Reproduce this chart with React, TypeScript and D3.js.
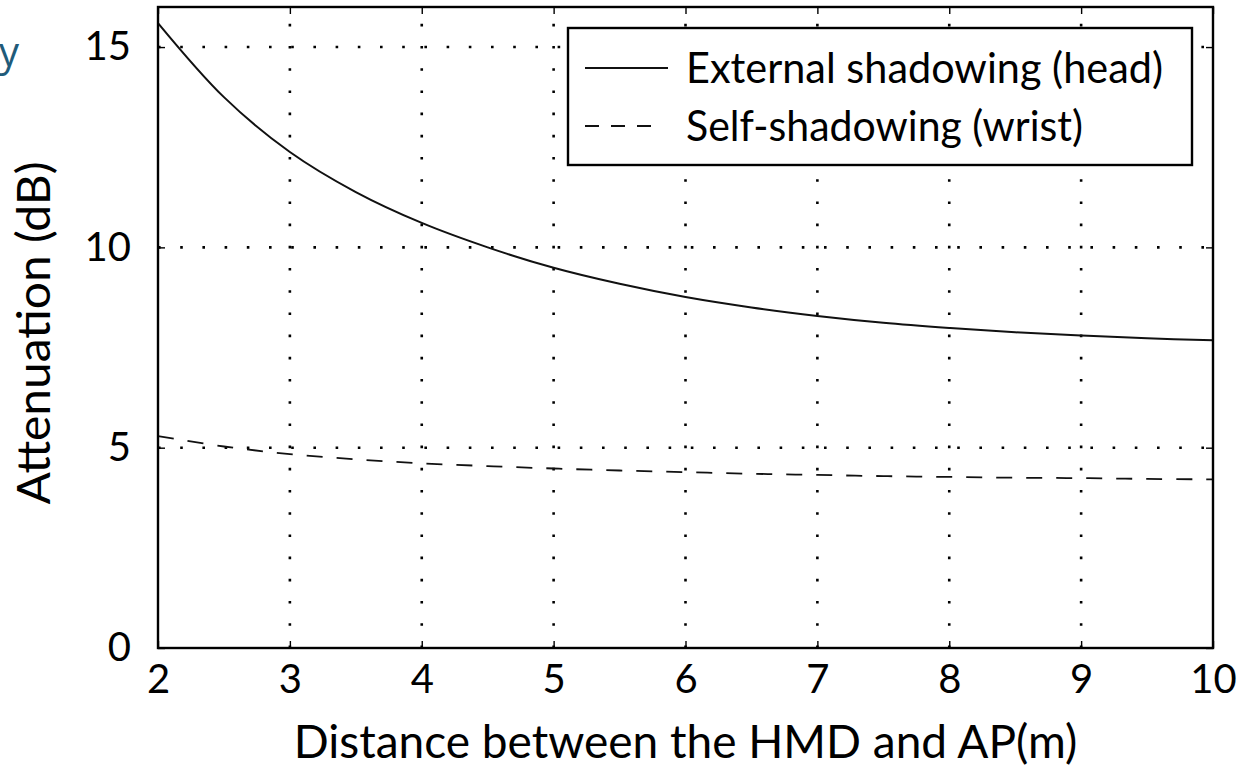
import React, { useRef, useEffect } from 'react';
import * as d3 from 'd3';

// distance between HMD and AP (m)
const distances = [2, 2.5, 3, 3.5, 4, 4.5, 5, 5.5, 6, 6.5, 7, 7.5, 8, 8.5, 9, 9.5, 10];
// attenuation (dB)
const headShadowing = [15.6, 13.75, 12.38, 11.38, 10.61, 10.0, 9.49, 9.09, 8.76, 8.5, 8.29, 8.12, 7.99, 7.88, 7.8, 7.73, 7.68];
const wristShadowing = [5.29, 5.03, 4.84, 4.71, 4.61, 4.54, 4.48, 4.43, 4.39, 4.35, 4.32, 4.29, 4.27, 4.25, 4.24, 4.22, 4.21];

const xTicks = [2, 3, 4, 5, 6, 7, 8, 9, 10];
const yTicks = [0, 5, 10, 15];
const legendLabels = ['External shadowing (head)', 'Self-shadowing (wrist)'];
const legendWidths = [477, 397];

const FONT = 'Lato, "DejaVu Sans", sans-serif';

export default function App() {
  const svgRef = useRef<SVGSVGElement | null>(null);

  useEffect(() => {
    const svg = d3.select(svgRef.current);
    svg.selectAll('*').remove();

    const left = 158;
    const right = 1213;
    const top = 7;
    const bottom = 648;

    const x = d3.scaleLinear().domain([2, 10]).range([left, right]);
    const y = d3.scaleLinear().domain([0, 16]).range([bottom, top]);

    // dotted grid
    const grid = svg.append('g').attr('stroke', '#000').attr('stroke-width', 2.6).attr('stroke-dasharray', '2.6 19.6');
    xTicks.slice(1, -1).forEach((t) => {
      grid.append('line').attr('x1', x(t)).attr('x2', x(t)).attr('y1', bottom).attr('y2', top);
    });
    yTicks.slice(1).forEach((t) => {
      grid.append('line').attr('x1', left).attr('x2', right).attr('y1', y(t)).attr('y2', y(t));
    });

    // ticks, inward on all four sides
    const styleAxis = (g) => {
      g.select('.domain').remove();
      g.selectAll('line').attr('stroke', '#000').attr('stroke-width', 1.4);
      g.selectAll('text').attr('font-family', FONT).attr('font-size', 40).attr('fill', '#000');
    };
    svg.append('g').attr('transform', `translate(0,${bottom})`)
      .call(d3.axisBottom(x).tickValues(xTicks).tickSizeInner(-7).tickSizeOuter(0).tickPadding(17))
      .call(styleAxis);
    svg.append('g').attr('transform', `translate(0,${top})`)
      .call(d3.axisTop(x).tickValues(xTicks).tickSizeInner(-7).tickSizeOuter(0).tickFormat(() => ''))
      .call(styleAxis);
    svg.append('g').attr('transform', `translate(${left},0)`)
      .call(d3.axisLeft(y).tickValues(yTicks).tickSizeInner(-7).tickSizeOuter(0).tickPadding(27))
      .call(styleAxis);
    svg.append('g').attr('transform', `translate(${right},0)`)
      .call(d3.axisRight(y).tickValues(yTicks).tickSizeInner(-7).tickSizeOuter(0).tickFormat(() => ''))
      .call(styleAxis);

    // curves
    const line = d3.line<number>()
      .x((_, i) => x(distances[i]))
      .y((d) => y(d))
      .curve(d3.curveCatmullRom.alpha(0.5));

    svg.append('path').datum(headShadowing)
      .attr('fill', 'none').attr('stroke', '#111').attr('stroke-width', 2)
      .attr('d', line);
    svg.append('path').datum(wristShadowing)
      .attr('fill', 'none').attr('stroke', '#111').attr('stroke-width', 1.8)
      .attr('stroke-dasharray', '16 14')
      .attr('d', line);

    // frame
    svg.append('rect')
      .attr('x', left).attr('y', top)
      .attr('width', right - left).attr('height', bottom - top)
      .attr('fill', 'none').attr('stroke', '#000').attr('stroke-width', 2.4);

    // legend
    const lg = svg.append('g');
    lg.append('rect')
      .attr('x', 568).attr('y', 28).attr('width', 624).attr('height', 137)
      .attr('fill', '#fff').attr('stroke', '#000').attr('stroke-width', 2.4);
    legendLabels.forEach((label, i) => {
      const cy = 68 + i * 58;
      lg.append('line')
        .attr('x1', 585).attr('x2', i === 1 ? 651 : 668).attr('y1', cy).attr('y2', cy)
        .attr('stroke', '#111').attr('stroke-width', 2)
        .attr('stroke-dasharray', i === 1 ? '14 12' : null);
      lg.append('text')
        .attr('x', 686).attr('y', cy)
        .attr('dy', '0.36em')
        .attr('font-family', FONT).attr('font-size', 43)
        .attr('textLength', legendWidths[i])
        .attr('lengthAdjust', 'spacingAndGlyphs')
        .attr('fill', '#000')
        .text(label);
    });

    // axis titles
    svg.append('text')
      .attr('x', (left + right) / 2).attr('y', 758)
      .attr('text-anchor', 'middle')
      .attr('font-family', FONT).attr('font-size', 46)
      .attr('fill', '#000')
      .text('Distance between the HMD and AP(m)');
    svg.append('text')
      .attr('transform', `translate(50,333) rotate(-90)`)
      .attr('text-anchor', 'middle')
      .attr('font-family', FONT).attr('font-size', 46)
      .attr('textLength', 343)
      .attr('lengthAdjust', 'spacingAndGlyphs')
      .attr('fill', '#000')
      .text('Attenuation (dB)');

    // cropped slide text at the left edge
    svg.append('text')
      .attr('x', 19).attr('y', 66)
      .attr('text-anchor', 'end')
      .attr('font-family', '"Open Sans", sans-serif').attr('font-size', 40)
      .attr('fill', '#1f5b7a')
      .text('y');
  }, []);

  return (
    <svg
      ref={svgRef}
      width={1240}
      height={774}
      style={{ position: 'absolute', left: 0, top: 0, background: '#fff' }}
      xmlns="http://www.w3.org/2000/svg"
    />
  );
}
